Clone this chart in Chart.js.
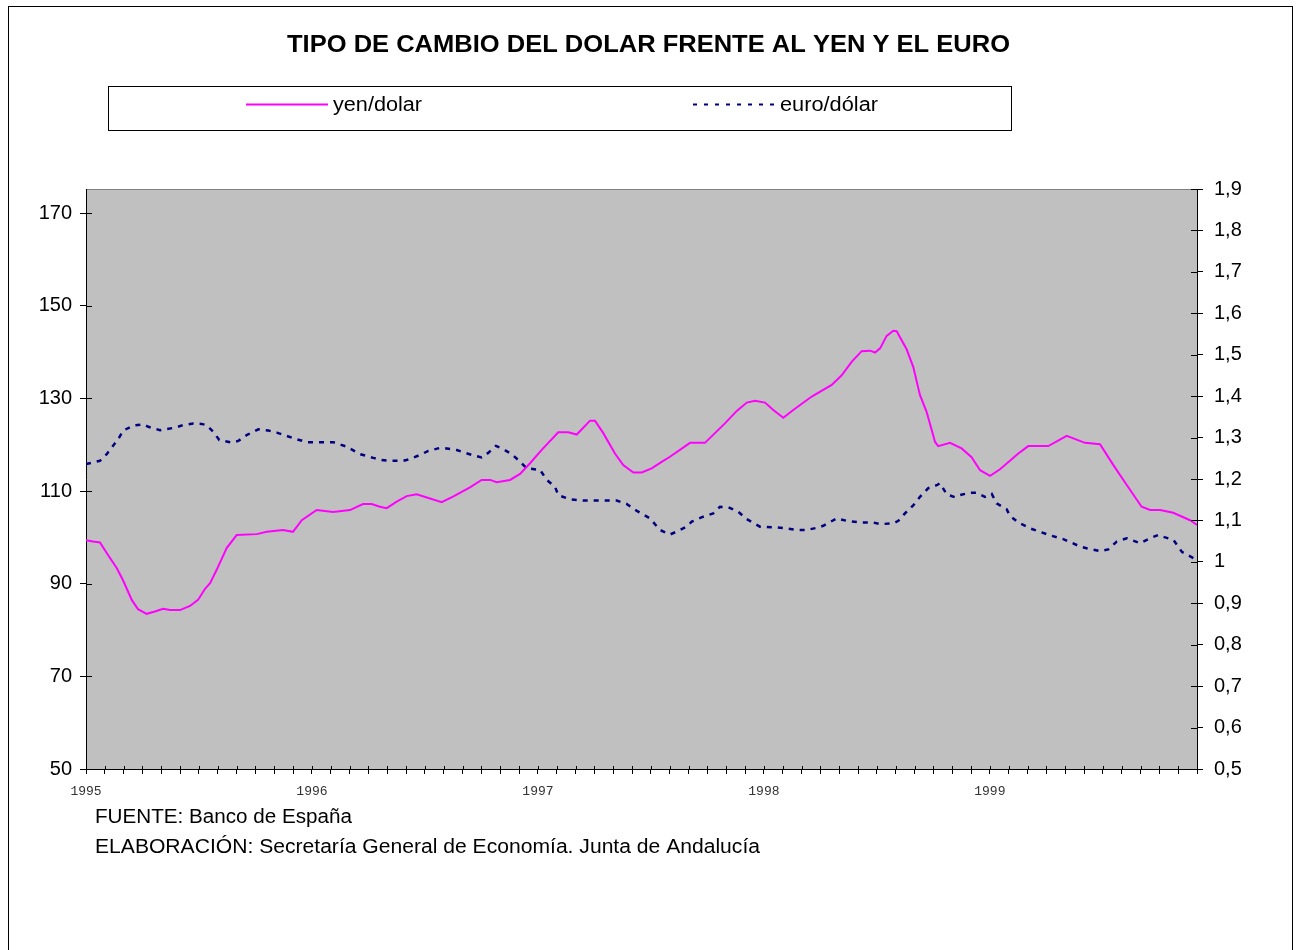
<!DOCTYPE html>
<html>
<head>
<meta charset="utf-8">
<script src="https://cdn.jsdelivr.net/npm/chart.js@4.4.1/dist/chart.umd.min.js"></script>
<style>
html,body{margin:0;padding:0;background:#fff;}
canvas{display:block;}
</style>
</head>
<body>
<canvas id="c" width="1296" height="950"></canvas>
<script>
// ---- data (x in months since Jan 1995) ----
const yenMonths = [0,0.37,0.74,1.17,1.63,1.96,2.43,2.76,3.22,3.66,4.09,4.46,4.99,5.52,5.95,6.32,6.59,6.94,7.47,8.0,9.07,9.6,10.46,10.99,11.46,12.25,13.12,14.02,14.71,15.17,15.61,15.97,16.5,17.03,17.56,18.27,18.89,19.49,20.39,21.01,21.46,21.81,22.52,23.05,23.58,24.2,25.08,25.61,26.06,26.77,27.03,27.47,28.09,28.53,29.07,29.51,30.04,30.57,31.01,32.08,32.87,33.93,34.56,35.09,35.53,36.06,36.5,37.03,37.56,38.54,39.6,40.13,40.66,41.19,41.64,41.9,42.17,42.52,42.87,43.05,43.58,43.93,44.29,44.64,45.09,45.26,45.88,46.5,47.03,47.48,48.01,48.54,49.51,50.04,51.1,52.08,53.05,53.85,54.56,55.27,56.06,56.51,57.04,57.74,58.63,59.0];
const yenValues = [99.4,99.1,98.9,96.2,93.4,90.8,86.5,84.5,83.5,84.0,84.6,84.3,84.3,85.2,86.5,88.9,90.1,93.0,97.7,100.5,100.7,101.2,101.6,101.2,103.7,105.9,105.5,105.9,107.2,107.2,106.6,106.3,107.7,108.9,109.3,108.4,107.6,108.8,110.8,112.4,112.4,111.9,112.4,113.7,116.0,118.9,122.7,122.7,122.2,125.2,125.2,122.5,118.1,115.6,114.0,114.0,114.9,116.3,117.4,120.4,120.4,124.6,127.3,129.1,129.5,129.1,127.5,125.8,127.5,130.4,132.9,135.0,137.9,140.2,140.3,139.9,140.8,143.5,144.6,144.5,140.6,136.8,130.7,127.1,120.6,119.7,120.4,119.2,117.3,114.5,113.3,114.7,118.1,119.7,119.7,121.9,120.4,120.1,115.6,111.3,106.6,105.9,105.9,105.3,103.7,102.7];
const euroMonths = [0,0.74,1.10,1.40,1.72,1.98,2.51,3.04,3.31,3.93,4.73,5.08,5.70,6.14,6.41,6.76,7.08,7.74,8.09,8.53,9.15,9.68,10.13,10.66,11.19,11.72,13.13,13.84,14.55,15.26,15.70,16.14,16.85,17.21,17.83,18.18,18.80,19.07,19.69,20.13,20.66,21.01,21.36,21.77,22.16,22.61,23.05,23.40,24.11,24.47,24.91,25.08,25.70,26.41,27.47,28.18,28.71,29.25,29.95,30.48,31.01,31.37,31.90,32.17,32.78,33.31,33.67,34.11,34.64,35.09,35.79,36.68,37.12,37.74,38.27,38.80,39.15,39.87,40.40,41.10,41.81,42.17,42.87,43.14,43.49,43.94,44.29,44.73,45.18,45.35,45.71,46.15,46.41,46.95,47.30,47.74,48.10,48.36,48.89,49.07,49.51,50.13,50.75,51.19,51.90,52.79,53.14,53.85,54.29,54.74,55.27,55.98,56.51,56.95,57.31,57.75,58.20,58.81,59.0];
const euroValues = [1.236,1.244,1.260,1.278,1.297,1.317,1.329,1.332,1.326,1.318,1.324,1.329,1.334,1.333,1.330,1.314,1.294,1.288,1.292,1.306,1.320,1.317,1.312,1.304,1.296,1.289,1.289,1.278,1.260,1.251,1.246,1.244,1.244,1.248,1.260,1.268,1.275,1.274,1.270,1.263,1.256,1.252,1.263,1.280,1.272,1.260,1.242,1.226,1.222,1.198,1.181,1.161,1.151,1.148,1.148,1.148,1.140,1.123,1.105,1.077,1.066,1.073,1.085,1.097,1.109,1.117,1.133,1.132,1.121,1.103,1.085,1.083,1.081,1.077,1.077,1.082,1.087,1.105,1.099,1.095,1.095,1.091,1.093,1.099,1.117,1.137,1.157,1.178,1.185,1.190,1.163,1.156,1.161,1.167,1.167,1.157,1.164,1.141,1.127,1.111,1.095,1.081,1.071,1.064,1.055,1.037,1.033,1.026,1.030,1.049,1.057,1.045,1.057,1.065,1.059,1.053,1.024,1.009,1.006];
const yearLabels = ['1995','1996','1997','1998','1999'];
const monthTicks = Array.from({length:60},(_,i)=>i);
const leftTicks = [50,70,90,110,130,150,170];
const rightTicks = [0.5,0.6,0.7,0.8,0.9,1.0,1.1,1.2,1.3,1.4,1.5,1.6,1.7,1.8,1.9];
const seriesNames = ['yen/dolar','euro/dólar'];
const titleText = 'TIPO DE CAMBIO DEL DOLAR FRENTE AL YEN Y EL EURO';
const notes = ['FUENTE: Banco de España','ELABORACIÓN: Secretaría General de Economía. Junta de Andalucía'];

const FONT = '"Liberation Sans", Arial, sans-serif';
const YEN_COLOR = '#FF00FF';
const EURO_COLOR = '#000080';
const EURO_DASH = [5,6];

function stretchText(ctx, text, x, y, targetW, align){
  const w = ctx.measureText(text).width;
  const sx = targetW / w;
  ctx.save();
  ctx.textAlign = 'left';
  let x0 = x;
  if (align === 'center') x0 = x - targetW/2;
  ctx.translate(x0, y);
  ctx.scale(sx, 1);
  ctx.fillText(text, 0, 0);
  ctx.restore();
}

const decor = {
  id:'decor',
  beforeDraw(chart){
    const {ctx, chartArea:a} = chart;
    ctx.save();
    ctx.fillStyle = '#fff';
    ctx.fillRect(0,0,chart.width,chart.height);
    ctx.strokeStyle = '#000'; ctx.lineWidth = 1;
    ctx.strokeRect(8.5,6.5,1284,1000);
    ctx.fillStyle = '#C0C0C0';
    ctx.fillRect(a.left,a.top,a.right-a.left,a.bottom-a.top);
    ctx.strokeStyle = '#808080';
    ctx.strokeRect(a.left+0.5,a.top+0.5,a.right-a.left,a.bottom-a.top);
    ctx.restore();
  },
  afterDraw(chart){
    const {ctx, chartArea:a, scales} = chart;
    ctx.save();
    ctx.strokeStyle = '#000'; ctx.lineWidth = 1;
    ctx.beginPath();
    scales.y.ticks.forEach(t=>{const p=Math.round(scales.y.getPixelForValue(t.value))+0.5; ctx.moveTo(a.left,p); ctx.lineTo(a.left+6,p);});
    scales.y1.ticks.forEach(t=>{const p=Math.round(scales.y1.getPixelForValue(t.value))+0.5; ctx.moveTo(a.right,p); ctx.lineTo(a.right-6,p);});
    scales.x.ticks.forEach(t=>{const p=Math.round(scales.x.getPixelForValue(t.value))+0.5; ctx.moveTo(p,a.bottom); ctx.lineTo(p,a.bottom-3);});
    ctx.stroke();
    // title
    ctx.fillStyle = '#000';
    ctx.textBaseline = 'middle';
    ctx.font = 'bold 23px ' + FONT;
    stretchText(ctx, titleText, 648.5, 46, 723, 'center');
    // legend
    ctx.strokeRect(108.5,86.5,903,44);
    ctx.lineWidth = 2;
    ctx.strokeStyle = YEN_COLOR;
    ctx.beginPath(); ctx.moveTo(246,104.5); ctx.lineTo(328,104.5); ctx.stroke();
    ctx.strokeStyle = EURO_COLOR; ctx.setLineDash([4,7]);
    ctx.beginPath(); ctx.moveTo(693,104.5); ctx.lineTo(775,104.5); ctx.stroke();
    ctx.setLineDash([]);
    ctx.font = '20px ' + FONT;
    stretchText(ctx, seriesNames[0], 333, 105, 89, 'left');
    stretchText(ctx, seriesNames[1], 780, 105, 98, 'left');
    // notes
    stretchText(ctx, notes[0], 95, 817, 257, 'left');
    stretchText(ctx, notes[1], 95, 847, 665, 'left');
    ctx.restore();
  }
};

new Chart(document.getElementById('c'), {
  type:'line',
  data:{
    datasets:[
      {label:seriesNames[0], data:yenMonths.map((m,i)=>({x:m,y:yenValues[i]})), yAxisID:'y',
       borderColor:YEN_COLOR, borderWidth:2, pointRadius:0, tension:0, fill:false},
      {label:seriesNames[1], data:euroMonths.map((m,i)=>({x:m,y:euroValues[i]})), yAxisID:'y1',
       borderColor:EURO_COLOR, borderWidth:2.5, borderDash:EURO_DASH, pointRadius:0, tension:0, fill:false}
    ]
  },
  options:{
    responsive:false, animation:false, devicePixelRatio:1,
    layout:{padding:{top:189, left:0, right:0, bottom:0}},
    plugins:{
      legend:{display:false},
      tooltip:{enabled:false},
      title:{display:false, text:titleText}
    },
    scales:{
      x:{type:'linear', min:0, max:59,
        afterBuildTicks:s=>{s.ticks = monthTicks.map(v=>({value:v}));},
        afterFit:s=>{s.height = 181;},
        ticks:{autoSkip:false, maxRotation:0, minRotation:0, padding:10, color:'#333',
          font:{family:'"Liberation Mono", "DejaVu Sans Mono", monospace', size:13},
          callback:v=> (v%12===0 ? yearLabels[v/12] : '')},
        grid:{drawOnChartArea:false, drawTicks:true, tickLength:5, color:'#000'},
        border:{display:true, color:'#000', width:1}
      },
      y:{position:'left', min:50, max:175.2,
        afterBuildTicks:s=>{s.ticks = leftTicks.map(v=>({value:v}));},
        afterFit:s=>{s.width = 86;},
        ticks:{color:'#000', padding:8, font:{family:FONT, size:20}},
        grid:{drawOnChartArea:false, tickLength:6, color:'#000'},
        border:{display:true, color:'#000', width:1}
      },
      y1:{position:'right', min:0.5, max:1.9,
        afterBuildTicks:s=>{s.ticks = rightTicks.map(v=>({value:v}));},
        afterFit:s=>{s.width = 99;},
        ticks:{color:'#000', padding:11, font:{family:FONT, size:20},
          callback:v=> String(Math.round(v*10)/10).replace('.',',')},
        grid:{drawOnChartArea:false, tickLength:6, color:'#000'},
        border:{display:true, color:'#000', width:1}
      }
    }
  },
  plugins:[decor]
});
</script>
</body>
</html>
